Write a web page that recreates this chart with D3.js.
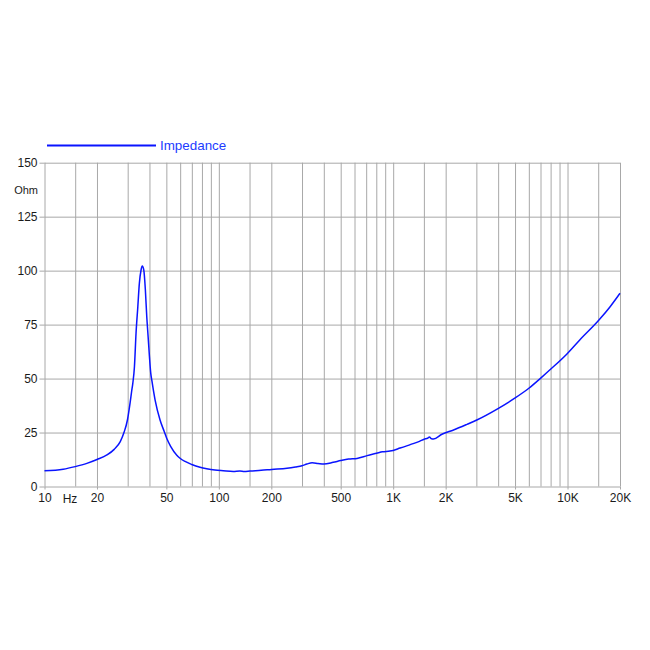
<!DOCTYPE html>
<html>
<head>
<meta charset="utf-8">
<script src="https://cdn.jsdelivr.net/npm/d3@7"></script>
<style>
  html, body { margin: 0; padding: 0; background: #fff; }
  svg { display: block; }
  text { font-family: Arial, "Liberation Sans", sans-serif; }
</style>
</head>
<body>
<svg id="chart" width="650" height="650"></svg>
<script>
// ---- data ----
const freqs = [10, 12.8, 15, 17.5, 20, 22.8, 25.1, 27.2, 28.6, 29.9, 31.0, 31.6, 32.1, 32.8, 33.5, 34.3, 35.0, 35.8, 36.4, 37.1, 37.9, 38.6, 39.3, 40.0, 40.7, 41.3, 43.1, 46.0, 48.6, 50.3, 52.9, 57.4, 59.9, 64, 69.9, 78, 85.2, 95, 106, 121, 132, 140, 151, 175, 201, 246, 275, 300, 320, 343, 370, 400, 453, 500, 554, 620, 709, 803, 869, 958, 1096, 1252, 1415, 1505, 1580, 1614, 1660, 1702, 1903, 2220, 2650, 3018, 4015, 4982, 6000, 6995, 8020, 9924, 11720, 15100, 17600, 20000];
const impedance = [7.3, 8.0, 9.2, 10.7, 12.5, 14.6, 17.2, 20.8, 25.1, 30.8, 39, 44, 47.8, 55.5, 71, 83.3, 94.1, 100.3, 102.1, 100.3, 91, 78.6, 69.4, 60.1, 52.4, 49.0, 40.0, 30.8, 25.5, 22.2, 18.6, 14.5, 13.1, 11.6, 10.2, 8.9, 8.2, 7.6, 7.3, 7.0, 7.2, 7.0, 7.2, 7.5, 7.9, 8.4, 9.0, 9.6, 10.4, 11.0, 10.7, 10.4, 11.2, 12.0, 12.7, 13.0, 14.3, 15.4, 16.1, 16.4, 17.8, 19.4, 20.9, 21.9, 22.4, 22.9, 22.1, 22.0, 24.2, 26.2, 28.8, 30.8, 36.2, 40.9, 45.5, 50.1, 54.4, 61.4, 67.8, 77.0, 83.4, 89.5];
const gridFreqs = [10, 15, 20, 30, 40, 50, 60, 70, 80, 90, 100, 150, 200, 300, 400, 500, 600, 700, 800, 900, 1000, 1500, 2000, 3000, 4000, 5000, 6000, 7000, 8000, 9000, 10000, 15000, 20000];
const xTickValues = [10, 20, 50, 100, 200, 500, 1000, 2000, 5000, 10000, 20000];
const xTickLabels = ["10", "20", "50", "100", "200", "500", "1K", "2K", "5K", "10K", "20K"];
const yTickValues = [0, 25, 50, 75, 100, 125, 150];
const seriesName = "Impedance";
const yUnit = "Ohm";
const xUnit = "Hz";

// ---- layout ----
const L = 44.5, R = 620, T = 162.7, B = 486.5;
const svg = d3.select("#chart");
const x = d3.scaleLog().domain([10, 20000]).range([L, R]);
const y = d3.scaleLinear().domain([0, 150]).range([B, T]);
const gridColor = "#a8a8a8";
const blue = "#0a14ff";
const font = "Arial, 'Liberation Sans', sans-serif";

// vertical grid
svg.append("g")
  .attr("transform", `translate(0,${B})`)
  .call(d3.axisBottom(x).tickValues(gridFreqs).tickSize(-(B - T)).tickFormat(""))
  .call(g => g.select(".domain").remove())
  .call(g => g.selectAll("line").attr("stroke", gridColor).attr("stroke-width", 1));

// horizontal grid
svg.append("g")
  .attr("transform", `translate(${L},0)`)
  .call(d3.axisLeft(y).tickValues(yTickValues).tickSize(-(R - L)).tickFormat(""))
  .call(g => g.select(".domain").remove())
  .call(g => g.selectAll("line").attr("stroke", gridColor).attr("stroke-width", 1));

// y axis labels
svg.append("g")
  .attr("transform", `translate(${L},0)`)
  .call(d3.axisLeft(y).tickValues(yTickValues).tickSize(5).tickPadding(2))
  .call(g => g.select(".domain").remove())
  .call(g => g.selectAll("line").attr("stroke", gridColor))
  .call(g => g.selectAll("text").attr("fill", "#1a1a1a").style("font-size", "12px").style("font-family", font));

// x axis labels
svg.append("g")
  .attr("transform", `translate(0,${B})`)
  .call(d3.axisBottom(x).tickValues(xTickValues).tickSize(3).tickPadding(4)
    .tickFormat((d, i) => xTickLabels[i]))
  .call(g => g.select(".domain").remove())
  .call(g => g.selectAll("line").attr("stroke", gridColor))
  .call(g => g.selectAll("text").attr("fill", "#1a1a1a").style("font-size", "12px").style("font-family", font));

// unit labels
svg.append("text").attr("x", 38).attr("y", y(137.5) + 4)
  .attr("text-anchor", "end").attr("fill", "#1a1a1a").style("font-size", "11px").text(yUnit);
svg.append("text").attr("x", 70).attr("y", B + 16)
  .attr("text-anchor", "middle").attr("fill", "#1a1a1a").style("font-size", "12px").text(xUnit);

// curve
const data = freqs.map((f, i) => ({ f, v: impedance[i] }));
svg.append("path")
  .datum(data)
  .attr("fill", "none")
  .attr("stroke", blue)
  .attr("stroke-width", 1.5)
  .attr("stroke-linejoin", "round")
  .attr("d", d3.line().x(d => x(d.f)).y(d => y(d.v)).curve(d3.curveMonotoneX));

// legend
svg.append("line").attr("x1", 47).attr("x2", 156).attr("y1", 145.5).attr("y2", 145.5)
  .attr("stroke", blue).attr("stroke-width", 2);
svg.append("text").attr("x", 160).attr("y", 150)
  .attr("fill", "#1c3cff").style("font-size", "13.4px").text(seriesName);
</script>
</body>
</html>
